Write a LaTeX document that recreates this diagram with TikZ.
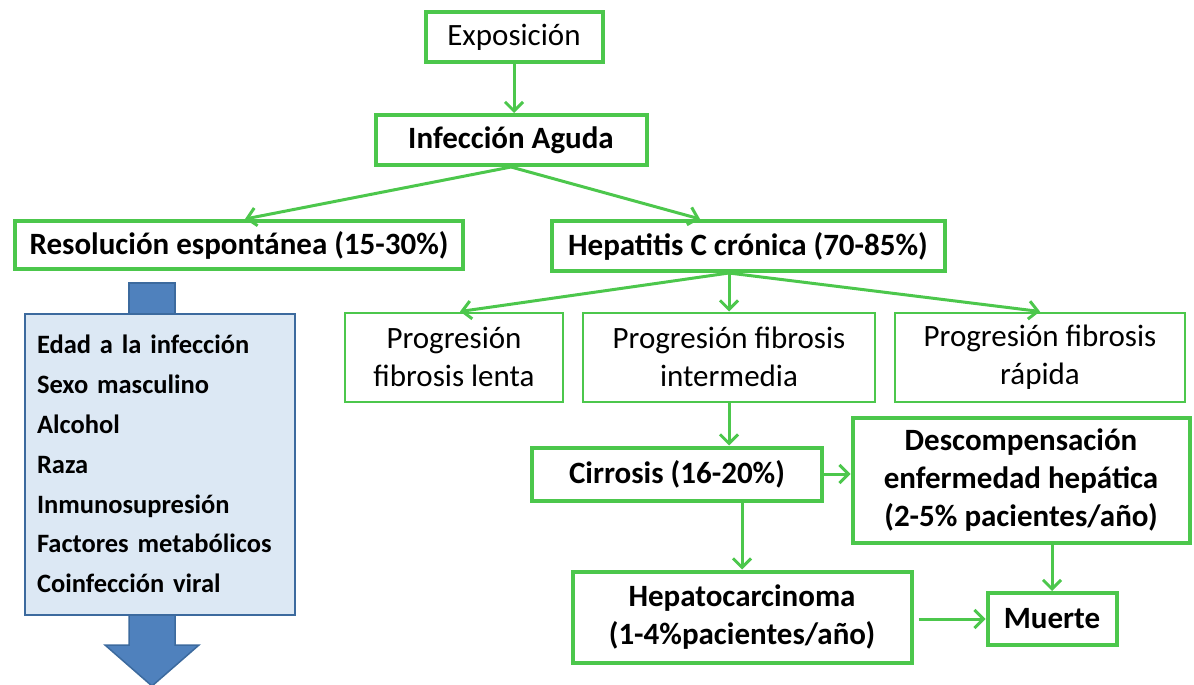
\documentclass[tikz,border=0pt]{standalone}
\usepackage{fontspec}
\setmainfont{Carlito}
\usetikzlibrary{arrows.meta}
\definecolor{verde}{HTML}{4CC74C}
\definecolor{azul}{HTML}{4F81BD}
\definecolor{azulborde}{HTML}{3C6A9E}
\definecolor{azulclaro}{HTML}{DCE8F4}
\tikzset{
  caja/.style={draw=verde, line width=2pt, align=center, inner sep=0pt,
    font=\fontsize{31}{38}\selectfont},
  gruesa/.style={caja, line width=4pt, font=\fontsize{31}{38}\selectfont\bfseries},
  flecha/.style={draw=verde, line width=3pt,
    -{Straight Barb[length=9pt,width=18pt,line width=3pt]}}
}
\begin{document}
\begin{tikzpicture}[x=1pt, y=-1pt]
  \useasboundingbox (0,0) rectangle (1194,685);
  % boxes
  \node (expo)    [gruesa, font=\fontsize{31}{38}\selectfont, minimum width=177pt, minimum height=50pt] at (514,37) {Exposición};
  \node (aguda)   [gruesa, minimum width=271pt, minimum height=50pt] at (511,140) {Infección Aguda};
  \node (resol)   [gruesa, minimum width=448pt, minimum height=48pt] at (239,245) {Resolución espontánea (15-30\%)};
  \node (cronica) [gruesa, minimum width=393pt, minimum height=50pt] at (748,246) {Hepatitis C crónica (70-85\%)};
  \node (lenta)   [caja, minimum width=218pt, minimum height=89pt] at (454,357) {Progresión\\fibrosis lenta};
  \node (inter)   [caja, minimum width=292pt, minimum height=89pt] at (729,357) {Progresión fibrosis\\intermedia};
  \node (rapida)  [caja, minimum width=290pt, minimum height=89pt] at (1040,357) {Progresión fibrosis\\rápida};
  \node (cirr)    [gruesa, minimum width=290pt, minimum height=53pt] at (677,474) {Cirrosis (16-20\%)};
  \node (desc)    [gruesa, minimum width=337pt, minimum height=125pt] at (1021,480) {Descompensación\\enfermedad hepática\\(2-5\% pacientes/año)};
  \node (hcc)     [gruesa, minimum width=339pt, minimum height=91pt] at (742,617) {Hepatocarcinoma\\(1-4\%pacientes/año)};
  \node (muerte)  [gruesa, minimum width=129pt, minimum height=52pt] at (1052,619) {Muerte};
  % blue factors box with arrow
  \fill [azul, draw=azulborde, line width=1.5pt] (129,283) rectangle (175,320);
  \node (factores) [draw=azulborde, fill=azulclaro, line width=2pt, minimum width=270pt,
    minimum height=301pt, text width=246pt, align=left, inner sep=0pt,
    font=\fontsize{26.5}{39.8}\selectfont\bfseries] at (160,464)
    {Edad a la infección\\Sexo masculino\\Alcohol\\Raza\\Inmunosupresión\\Factores metabólicos\\Coinfección viral};
  \fill [azul, draw=azulborde, line width=1.5pt] (129,615) -- (175,615) -- (175,645) -- (199,645)
    -- (152,686) -- (105,645) -- (129,645) -- cycle;
  % connectors
  \draw [flecha] (expo) -- (expo |- aguda.north);
  \draw [flecha] (aguda.south) -- (resol.north -| 245,0);
  \draw [flecha] (aguda.south) -- (cronica.north west -| 700,0);
  \draw [flecha] (cronica.south -| inter) -- (lenta.north -| 460,0);
  \draw [flecha] (cronica.south -| inter) -- (inter.north);
  \draw [flecha] (cronica.south -| inter) -- (rapida.north);
  \draw [flecha] (inter.south) -- (inter |- cirr.north);
  \draw [flecha] (cirr.east) -- (cirr.east -| desc.west);
  \draw [flecha] (cirr.south -| hcc) -- (hcc.north);
  \draw [flecha] (desc.south -| muerte) -- (muerte.north);
  \draw [flecha, shorten <=5pt] (hcc.east |- muerte) -- (muerte.west);
\end{tikzpicture}
\end{document}
